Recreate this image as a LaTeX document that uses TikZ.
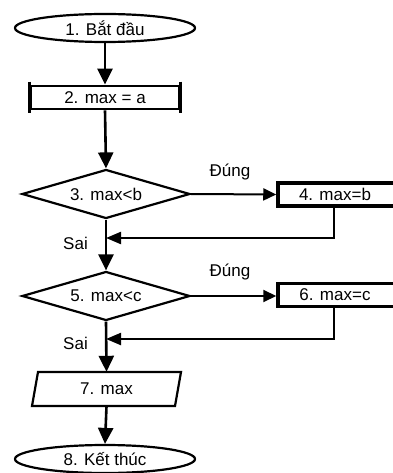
\documentclass[tikz,border=0pt]{standalone}
\usepackage{fontspec}
\setmainfont{Liberation Sans}
\usetikzlibrary{shapes.geometric,arrows.meta}
\begin{document}
\begin{tikzpicture}[x=1pt,y=-1pt,
  every node/.style={font=\fontsize{17}{20}\selectfont, inner sep=0pt},
  term/.style={ellipse, draw, line width=2.2pt, minimum width=180pt, minimum height=28pt},
  procbox/.style={rectangle, draw, line width=2.8pt, minimum height=23pt},
  decide/.style={diamond, draw, line width=2.2pt, aspect=3.43, minimum width=168pt, minimum height=49pt},
  conn/.style={line width=2.6pt, -{Triangle[length=16pt,width=15pt]}},
  hconn/.style={line width=2pt, -{Triangle[length=13pt,width=12pt]}},
  back/.style={line width=2.2pt, -{Triangle[length=15pt,width=12pt]}}
]
\useasboundingbox (0,0) rectangle (392,473);

\node[term] (e1) at (105,28) {1. Bắt đầu};
\node[procbox, minimum width=148pt] (b2) at (105,97.5) {2. max = a};
\draw[line width=2.8pt] ([yshift=3pt]b2.north west) -- ([yshift=-3pt]b2.south west);
\draw[line width=2.8pt] ([yshift=3pt]b2.north east) -- ([yshift=-3pt]b2.south east);

\node[decide] (d3) at (106,194) {3. max<b};
\node[procbox, line width=3.5pt, minimum width=160pt] (b4) at (358,194.5) {\hspace*{-46pt}4. max=b};
\node (t1) at (230,172) {Đúng};
\coordinate (j1) at (106,238);
\node (s1) at (75.5,243) {Sai};

\node[decide] (d5) at (106,296) {5. max<c};
\node[procbox, line width=3.5pt, minimum width=160pt] (b6) at (358,295) {\hspace*{-46pt}6. max=c};
\node (t2) at (230,272) {Đúng};
\coordinate (j2) at (106,339);
\node (s2) at (75.5,343) {Sai};

\node[rectangle, minimum width=143pt, minimum height=34pt] (p7) at (106.5,389) {7. max};
\draw[line width=2.2pt] (32,406) -- (38,372) -- (181,372) -- (175,406) -- cycle;

\node[term] (e8) at (105,459) {8. Kết thúc};

\draw[conn] (e1.south) -- (b2.north -| e1.south);
\draw[conn] (b2.south) -- (d3.north);
\draw[hconn] (d3.east) -- (b4.west);
\draw[conn] (d3.south) -- (d5.north);
\draw[back] (b4.south -| 334,0) |- (j1);
\draw[hconn] (d5.east) -- (b6.west |- d5.east);
\draw[conn] (d5.south) -- (p7.north);
\draw[back] (b6.south -| 334,0) |- (j2);
\draw[conn] (p7.south) -- (e8.north);
\end{tikzpicture}
\end{document}
